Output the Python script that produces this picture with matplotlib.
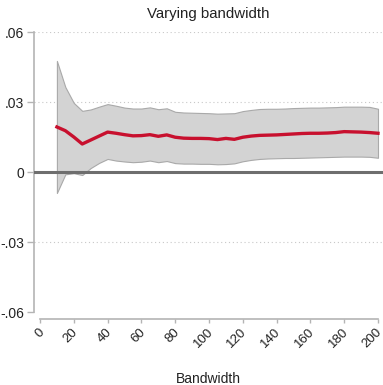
import numpy as np
import matplotlib
matplotlib.use("Agg")
import matplotlib.pyplot as plt
import matplotlib.transforms as mtransforms

plt.rcParams['font.family'] = ['Liberation Sans', 'DejaVu Sans']

# estimates by bandwidth, with confidence band
bandwidth = list(range(10, 201, 5))
estimate = [0.0193, 0.0177, 0.0150, 0.0120, 0.0137, 0.0154, 0.0171, 0.0166,
            0.0160, 0.0155, 0.0156, 0.0160, 0.0153, 0.0159, 0.0149, 0.0145,
            0.0144, 0.0144, 0.0143, 0.0139, 0.0144, 0.0140, 0.0149, 0.0154,
            0.0157, 0.0158, 0.0159, 0.0161, 0.0163, 0.0165, 0.0166, 0.0166,
            0.0167, 0.0169, 0.0173, 0.0172, 0.0171, 0.0169, 0.0166]
ci_upper = [0.0476, 0.0364, 0.0296, 0.0262, 0.0268, 0.0280, 0.0291, 0.0284,
            0.0276, 0.0272, 0.0272, 0.0277, 0.0269, 0.0273, 0.0258, 0.0255,
            0.0254, 0.0253, 0.0252, 0.0250, 0.0251, 0.0252, 0.0261, 0.0266,
            0.0270, 0.0271, 0.0271, 0.0272, 0.0274, 0.0275, 0.0276, 0.0276,
            0.0277, 0.0278, 0.0280, 0.0280, 0.0280, 0.0279, 0.0271]
ci_lower = [-0.0090, -0.0010, -0.0005, -0.0013, 0.0017, 0.0039, 0.0056, 0.0049,
            0.0045, 0.0042, 0.0044, 0.0049, 0.0042, 0.0047, 0.0038, 0.0036,
            0.0036, 0.0035, 0.0035, 0.0033, 0.0034, 0.0037, 0.0046, 0.0052,
            0.0056, 0.0058, 0.0059, 0.0060, 0.0060, 0.0061, 0.0062, 0.0063,
            0.0064, 0.0065, 0.0066, 0.0066, 0.0066, 0.0065, 0.0061]

yticks = [-0.06, -0.03, 0, 0.03, 0.06]
ytick_labels = ['-.06', '-.03', '0', '.03', '.06']
xticks = list(range(0, 201, 20))

fig = plt.figure(figsize=(3.83, 3.85), dpi=100)
ax = fig.add_axes([34/383, 66/385, 349/383, 287/385])

ax.fill_between(bandwidth, ci_lower, ci_upper, color='#d3d3d3',
                edgecolor='#a9a9a9', linewidth=0.8, zorder=2)
ax.plot(bandwidth, estimate, color='#c8102e', linewidth=2.4, zorder=4)
ax.axhline(0, color='#6e6e6e', linewidth=2.2, zorder=3)

for yv in [-0.03, 0.03, 0.06]:
    ax.axhline(yv, color='#c8c8c8', linewidth=0.8, linestyle=(0, (1, 2.5)), zorder=1)

ax.set_xlim(-3.55, 202.96)
ax.set_ylim(-0.063, 0.06)

for s in ['top', 'right']:
    ax.spines[s].set_visible(False)
ax.spines['left'].set_bounds(-0.06, 0.06)
ax.spines['bottom'].set_bounds(0, 200)
for s in ['left', 'bottom']:
    ax.spines[s].set_color('#b4b4b4')
    ax.spines[s].set_linewidth(1.2)

ax.set_yticks(yticks)
ax.set_yticklabels(ytick_labels)
ax.set_xticks(xticks)
ax.set_xticklabels([str(t) for t in xticks], rotation=45, ha='right',
                   va='top', rotation_mode='anchor')
ax.tick_params(axis='both', colors='#b4b4b4', labelcolor='#222222',
               labelsize=10, length=5, width=1)
ax.tick_params(axis='y', pad=2)
ax.tick_params(axis='x', length=3, pad=2, labelsize=9.5)

# nudge the rotated labels a little left so the last one stays inside
shift = mtransforms.ScaledTranslation(-2/100, 0, fig.dpi_scale_trans)
for lbl in ax.get_xticklabels():
    lbl.set_transform(lbl.get_transform() + shift)

ax.set_title('Varying bandwidth', fontsize=10.8, color='#222222', pad=10)
ax.set_xlabel('Bandwidth', fontsize=10, color='#222222')
ax.xaxis.set_label_coords(0.5, -0.185)

fig.savefig('out.png', dpi=100, facecolor='white')
